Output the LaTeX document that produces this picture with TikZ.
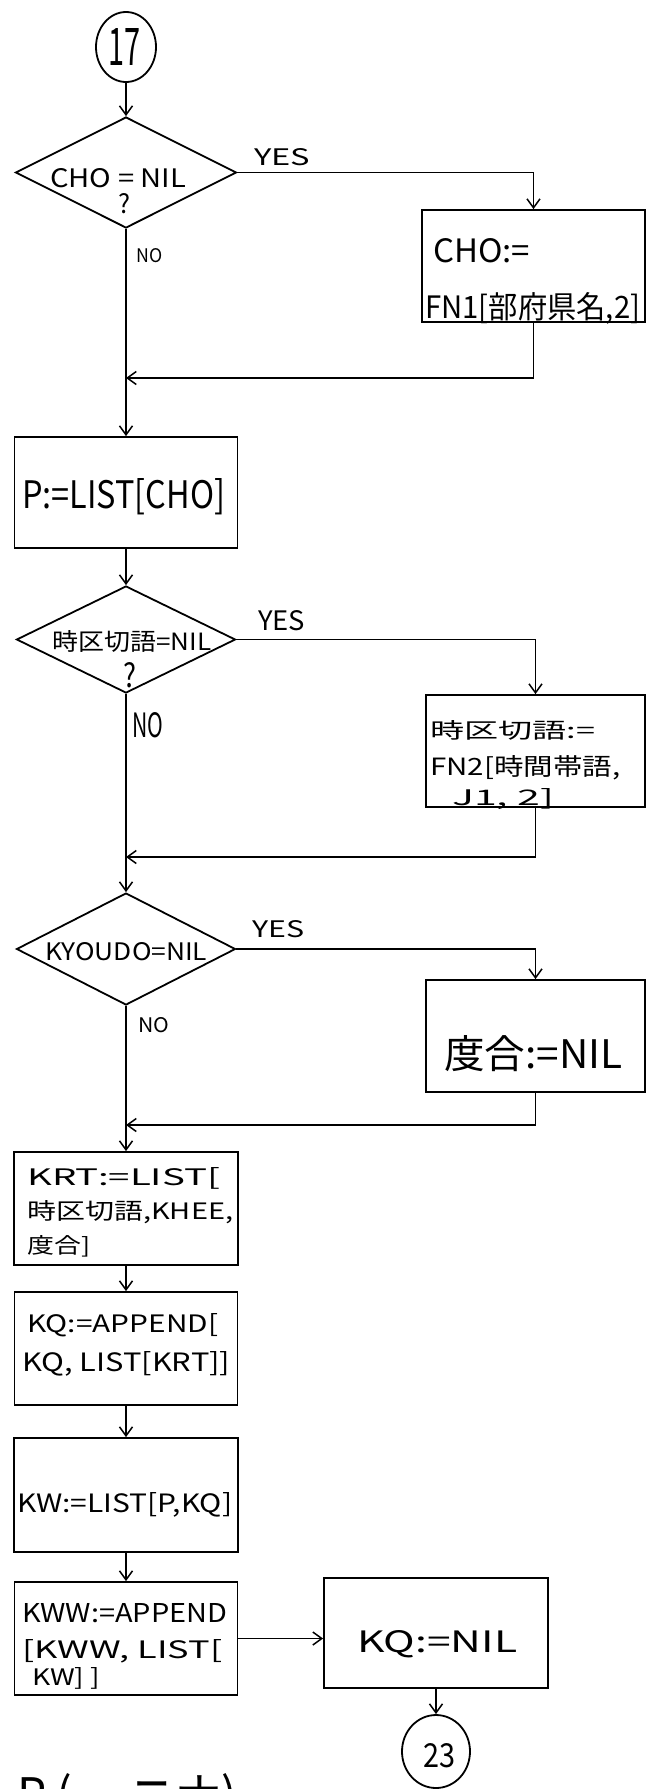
\documentclass[tikz,border=0pt]{standalone}
\usepackage{fontspec}
\usepackage{graphicx}
\setmainfont{Noto Sans CJK JP}
\usetikzlibrary{arrows.meta,shapes.geometric}
\newcommand\fitt[3]{\resizebox{#1pt}{#2pt}{#3}}
\begin{document}
\begin{tikzpicture}[x=1pt,y=-1pt,
  ln/.style={line width=1.8pt},
  arr/.style={ln,-{Straight Barb[length=9pt,width=13pt,line width=1.5pt]}},
  proc/.style={draw,ln,rectangle,inner sep=0pt},
  dec/.style={draw,ln,diamond,inner sep=0pt},
  conn/.style={draw,ln,ellipse,inner sep=0pt},
  txt/.style={inner sep=0pt,anchor=base west}]
\useasboundingbox[fill=white] (0,0) rectangle (647,1789);
% nodes
\node[conn,minimum width=60pt,minimum height=70pt] (c17) at (126,47) {};
\node[dec,minimum width=221pt,minimum height=111pt] (d1) at (126,172.5) {};
\node[proc,minimum width=223pt,minimum height=112pt] (b1) at (533.5,266) {};
\node[proc,minimum width=223pt,minimum height=111pt] (p) at (126,492.5) {};
\node[dec,minimum width=219pt,minimum height=107pt] (d2) at (126,639.5) {};
\node[proc,minimum width=219pt,minimum height=112pt] (b2) at (535.5,751) {};
\node[dec,minimum width=219pt,minimum height=112pt] (d3) at (126,949) {};
\node[proc,minimum width=219pt,minimum height=112pt] (b3) at (535.5,1036) {};
\node[proc,minimum width=224pt,minimum height=113pt] (krt) at (126,1208.5) {};
\node[proc,minimum width=223pt,minimum height=113pt] (kq) at (126,1348.5) {};
\node[proc,minimum width=224pt,minimum height=114pt] (kw) at (126,1495) {};
\node[proc,minimum width=223pt,minimum height=113pt] (kww) at (126,1638.5) {};
\node[proc,minimum width=224pt,minimum height=110pt] (kqn) at (436,1633) {};
\node[conn,minimum width=68pt,minimum height=73pt] (c23) at (436,1751.5) {};
\coordinate (m1) at (126,378);
\coordinate (m2) at (126,857);
\coordinate (m3) at (126,1125);
% texts
\node[txt] (t17) at (108,65) {\fitt{32}{37}{17}};
\node[txt] (td1) at (50,187) {\fitt{136}{19}{CHO = NIL}};
\node[txt] (tq1) at (118,213) {\fitt{12}{20}{?}};
\node[txt] (ty1) at (254,165) {\fitt{56}{17}{YES}};
\node[txt] (tn1) at (136,262) {\fitt{26}{14}{NO}};
\node[txt] (tb1a) at (433,262) {\fitt{97}{24}{CHO:=}};
\node[txt] (tb1b) at (425,318) {\fitt{215}{26}{FN1[部府県名,2]}};
\node[txt] (tp) at (22,508) {\fitt{203}{30}{P:=LIST[CHO]}};
\node[txt] (td2) at (52,650) {\fitt{159}{20}{時区切語=NIL}};
\node[txt] (tq2) at (123,687) {\fitt{13}{25}{?}};
\node[txt] (ty2) at (258,630) {\fitt{47}{20}{YES}};
\node[txt] (tn2) at (132,737) {\fitt{31}{25}{NO}};
\node[txt] (tb2a) at (430,738) {\fitt{165}{18}{時区切語:=}};
\node[txt] (tb2b) at (430,775) {\fitt{190}{20}{FN2[時間帯語,}};
\node[txt] (tb2c) at (452,805) {\fitt{102}{17}{J1, 2]}};
\node[txt] (td3) at (45,960) {\fitt{162}{18}{KYOUDO=NIL}};
\node[txt] (ty3) at (252,937) {\fitt{52}{17}{YES}};
\node[txt] (tn3) at (138,1032) {\fitt{31}{15}{NO}};
\node[txt] (tb3) at (444,1068) {\fitt{178}{33}{度合:=NIL}};
\node[txt] (tk1) at (27,1185) {\fitt{193}{18}{KRT:=LIST[}};
\node[txt] (tk2) at (27,1219) {\fitt{206}{19}{時区切語,KHEE,}};
\node[txt] (tk3) at (27,1253) {\fitt{63}{18}{度合]}};
\node[txt] (tq1a) at (27,1332) {\fitt{191}{19}{KQ:=APPEND[}};
\node[txt] (tq1b) at (22,1371) {\fitt{208}{20}{KQ, LIST[KRT]]}};
\node[txt] (tw) at (17,1512) {\fitt{215}{20}{KW:=LIST[P,KQ]}};
\node[txt] (tww1) at (22,1622) {\fitt{205}{19}{KWW:=APPEND}};
\node[txt] (tww2) at (22,1658) {\fitt{200}{19}{[KWW, LIST[}};
\node[txt] (tww3) at (32,1685) {\fitt{68}{18}{KW] ]}};
\node[txt] (tqn) at (357,1652) {\fitt{160}{22}{KQ:=NIL}};
\node[txt] (t23) at (423,1767) {\fitt{32}{24}{23}};
\node[inner sep=0pt,anchor=north west] (tbot) at (17,1773) {\fitt{220}{40}{P (ー ニナ)}};
% connectors
\draw[arr] (c17) -- (d1);
\draw[arr] (d1.east) -| (b1.north);
\draw[ln] (d1.south) -- (m1);
\draw[arr] (m1) -- (p.north);
\draw[arr] (b1.south) |- (m1);
\draw[arr] (p) -- (d2);
\draw[arr] (d2.east) -| (b2.north);
\draw[ln] (d2.south) -- (m2);
\draw[arr] (m2) -- (d3.north);
\draw[arr] (b2.south) |- (m2);
\draw[arr] (d3.east) -| (b3.north);
\draw[ln] (d3.south) -- (m3);
\draw[arr] (m3) -- (krt.north);
\draw[arr] (b3.south) |- (m3);
\draw[arr] (krt) -- (kq);
\draw[arr] (kq) -- (kw);
\draw[arr] (kw) -- (kww);
\draw[arr] (kww.east) -- (kww.east -| kqn.west);
\draw[arr] (kqn.south) -- (c23.north);
\end{tikzpicture}
\end{document}
